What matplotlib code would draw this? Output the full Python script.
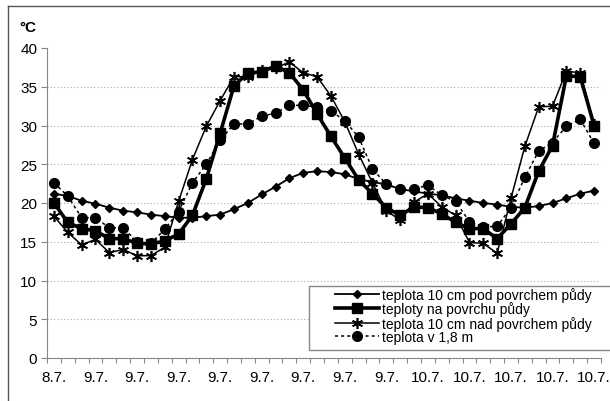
import numpy as np
import matplotlib
matplotlib.use("Agg")
import matplotlib.pyplot as plt
from matplotlib.lines import Line2D
from matplotlib.patches import Rectangle

plt.rcParams['font.family'] = ['Liberation Sans', 'DejaVu Sans']

# hodnoty (40 mereni)
pod_povrchem = [21.2, 20.9, 20.3, 19.9, 19.4, 19.0, 18.8, 18.5, 18.3, 18.1,
                18.1, 18.3, 18.5, 19.2, 20.0, 21.1, 22.1, 23.2, 23.9, 24.1,
                24.0, 23.7, 23.1, 22.7, 22.4, 21.8, 21.5, 21.2, 21.0, 20.6,
                20.3, 20.0, 19.8, 19.5, 19.4, 19.6, 20.0, 20.6, 21.2, 21.6]
na_povrchu = [20.0, 17.5, 16.7, 16.4, 15.4, 15.4, 14.8, 14.7, 15.1, 16.0,
              18.4, 23.1, 29.0, 35.1, 36.8, 36.9, 37.7, 36.8, 34.6, 31.5,
              28.6, 25.8, 23.0, 21.2, 19.4, 18.4, 19.5, 19.4, 18.6, 17.5,
              16.7, 16.7, 15.4, 17.3, 19.4, 24.1, 27.4, 36.4, 36.3, 30.0]
nad_povrchem = [18.3, 16.2, 14.6, 15.3, 13.6, 14.0, 13.2, 13.2, 14.3, 20.2,
                25.6, 29.9, 33.2, 36.3, 36.3, 37.1, 37.4, 38.2, 36.8, 36.3,
                33.8, 30.5, 26.3, 22.6, 19.0, 17.8, 20.1, 21.2, 19.5, 18.4,
                14.9, 14.8, 13.5, 20.6, 27.3, 32.4, 32.5, 37.0, 36.8, 30.2]
v_1_8m = [22.6, 20.9, 18.1, 18.1, 16.8, 16.8, 15.0, 14.8, 16.6, 18.9,
          22.6, 25.0, 28.1, 30.2, 30.2, 31.2, 31.6, 32.6, 32.6, 32.4,
          31.9, 30.6, 28.5, 24.4, 22.4, 21.8, 21.8, 22.3, 21.0, 20.2,
          17.6, 16.9, 17.0, 19.4, 23.3, 26.7, 27.8, 29.9, 30.8, 27.7]
popisky = ["8.7."] + ["9.7."] * 8 + ["10.7."] * 5
nazvy = ["teplota 10 cm pod povrchem půdy", "teploty na povrchu půdy",
         "teplota 10 cm nad povrchem půdy", "teplota v 1,8 m"]

x = np.arange(len(pod_povrchem))

fig = plt.figure(figsize=(6.10, 4.02), dpi=100)
ax = fig.add_axes([47 / 610, 43 / 402, 554 / 610, 310 / 402])

ax.plot(x, pod_povrchem, color='black', lw=1.3, marker='D', ms=4.5, label=nazvy[0])
ax.plot(x, na_povrchu, color='black', lw=2.6, marker='s', ms=7, label=nazvy[1])
ax.plot(x, nad_povrchem, color='black', lw=1.1, marker=(6, 2, 0), ms=8, mew=1.2, label=nazvy[2])
ax.plot(x, v_1_8m, color='black', lw=1.1, ls=(0, (2, 2)), marker='o', ms=7, label=nazvy[3])

ax.set_xlim(-0.5, len(x) - 0.5)
ax.set_ylim(0, 40)
ax.set_yticks(range(0, 41, 5))
ax.set_xticks(x[::3])
ax.set_xticklabels(popisky)
ax.set_xticks(np.arange(-0.5, len(x), 1), minor=True)

ax.tick_params(axis='x', which='major', length=0, pad=9, labelsize=11)
ax.tick_params(axis='x', which='minor', length=3.5, color='#888888', width=0.8)
ax.tick_params(axis='y', length=4, color='#888888', width=0.8, pad=3, labelsize=11)

for s in ['top', 'right']:
    ax.spines[s].set_visible(False)
for s in ['left', 'bottom']:
    ax.spines[s].set_color('#888888')
    ax.spines[s].set_linewidth(0.8)

ax.grid(axis='y', color='#aaaaaa', ls=(0, (1, 2)), lw=0.8)
ax.set_axisbelow(True)
gl = ax.get_ygridlines()
gl[0].set_visible(False)
gl[-1].set_visible(False)

fig.text(19 / 610, 1 - 28 / 402, "°C", fontsize=11, fontweight='bold', va='center')

# ramecek legendy
fig.patches.append(Rectangle((309 / 610, 1 - 351 / 402), 0.6, 64 / 402,
                             transform=fig.transFigure, facecolor='white',
                             edgecolor='#888888', lw=1, zorder=3))
leg = fig.legend(loc='upper left', bbox_to_anchor=(335 / 610, 1 - 288 / 402),
                 frameon=False, fontsize=10, handlelength=3.2, handletextpad=0.15,
                 labelspacing=-0.05, borderpad=0, borderaxespad=0)
leg.set_zorder(4)

# okraj obrazku
fig.add_artist(Line2D([8 / 610, 8 / 610], [0, 1 - 7 / 402], color='#555555', lw=1,
                      transform=fig.transFigure))
fig.add_artist(Line2D([8 / 610, 1], [1 - 7 / 402, 1 - 7 / 402], color='#555555', lw=1,
                      transform=fig.transFigure))

fig.savefig("out.png", dpi=100)
